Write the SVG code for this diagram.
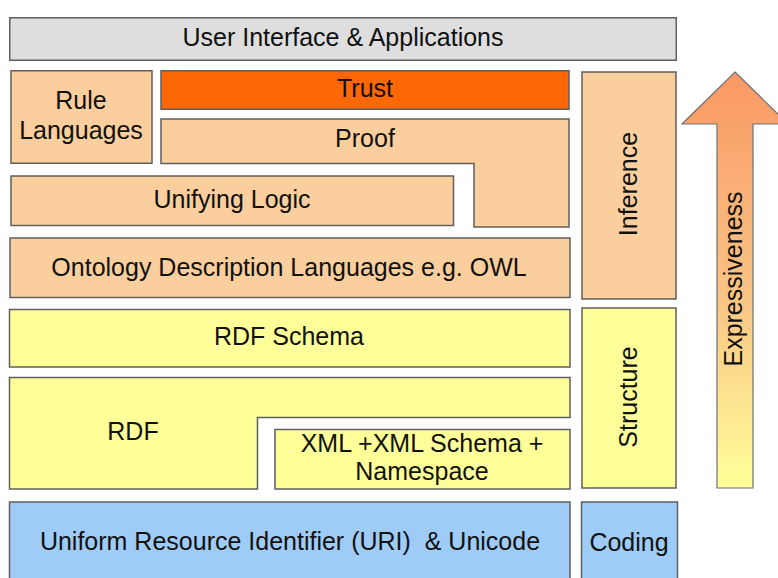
<svg xmlns="http://www.w3.org/2000/svg" width="778" height="578" viewBox="0 0 778 578">
<defs>
<style>
.b{stroke:#5f5f5f;stroke-width:1.5}
.g{fill:#dedede}
.o{fill:#fbcf9d}
.t{fill:#fd6804}
.y{fill:#ffff99}
.u{fill:#9fcbf7}
text{font-family:"Liberation Sans",Arial,sans-serif;font-size:25px;fill:#111;text-anchor:middle}
.pre{white-space:pre}
</style>
<linearGradient id="ag" x1="0" y1="72" x2="0" y2="488" gradientUnits="userSpaceOnUse">
<stop offset="0" stop-color="#fa9865"/>
<stop offset="0.55" stop-color="#f9c585"/>
<stop offset="1" stop-color="#ffff99"/>
</linearGradient>
</defs>
<rect width="778" height="578" fill="#ffffff"/>
<g id="ui"><rect class="b g" x="9.75" y="17.75" width="666.5" height="42.5"/><text x="343" y="46">User Interface &amp; Applications</text></g>
<g id="rule"><rect class="b o" x="11" y="70.75" width="141" height="92.5"/><text x="81" y="109">Rule</text><text x="81" y="139">Languages</text></g>
<g id="trust"><rect class="b t" x="161" y="70.75" width="408" height="38.5"/><text x="365" y="97">Trust</text></g>
<g id="proof"><path class="b o" d="M161,119 H569 V227 H474 V163.5 H161 Z"/><text x="365" y="147">Proof</text></g>
<g id="logic"><rect class="b o" x="11" y="176" width="442.5" height="49.5"/><text x="232" y="208">Unifying Logic</text></g>
<g id="ontology"><rect class="b o" x="10" y="238" width="560" height="59.5"/><text x="289" y="276">Ontology Description Languages e.g. OWL</text></g>
<g id="inference"><rect class="b o" x="582" y="72" width="94" height="227"/><text transform="translate(637,184) rotate(-90)">Inference</text></g>
<g id="rdfschema"><rect class="b y" x="9.5" y="309.5" width="560.5" height="57.5"/><text x="289" y="345">RDF Schema</text></g>
<g id="rdf"><path class="b y" d="M9.5,377.5 H570 V417.5 H257.5 V489 H9.5 Z"/><text x="133" y="440">RDF</text></g>
<g id="xml"><rect class="b y" x="275" y="429.5" width="295" height="59.5"/><text x="422" y="452">XML +XML Schema +</text><text x="422" y="480">Namespace</text></g>
<g id="structure"><rect class="b y" x="582" y="308" width="94" height="180"/><text transform="translate(637,397) rotate(-90)">Structure</text></g>
<g id="uri"><rect class="b u" x="9.5" y="502" width="560.5" height="80"/><text class="pre" x="290" y="550">Uniform Resource Identifier (URI)  &amp; Unicode</text></g>
<g id="coding"><rect class="b u" x="581.5" y="502" width="96" height="80"/><text x="629" y="551">Coding</text></g>
<g id="expressiveness"><path stroke="#707070" stroke-width="1.2" fill="url(#ag)" d="M735,72 L788,124 H753 V488 H717 V124 H682 Z"/><text transform="translate(742,279) rotate(-90)">Expressiveness</text></g>
<g id="connectors"></g>
</svg>
